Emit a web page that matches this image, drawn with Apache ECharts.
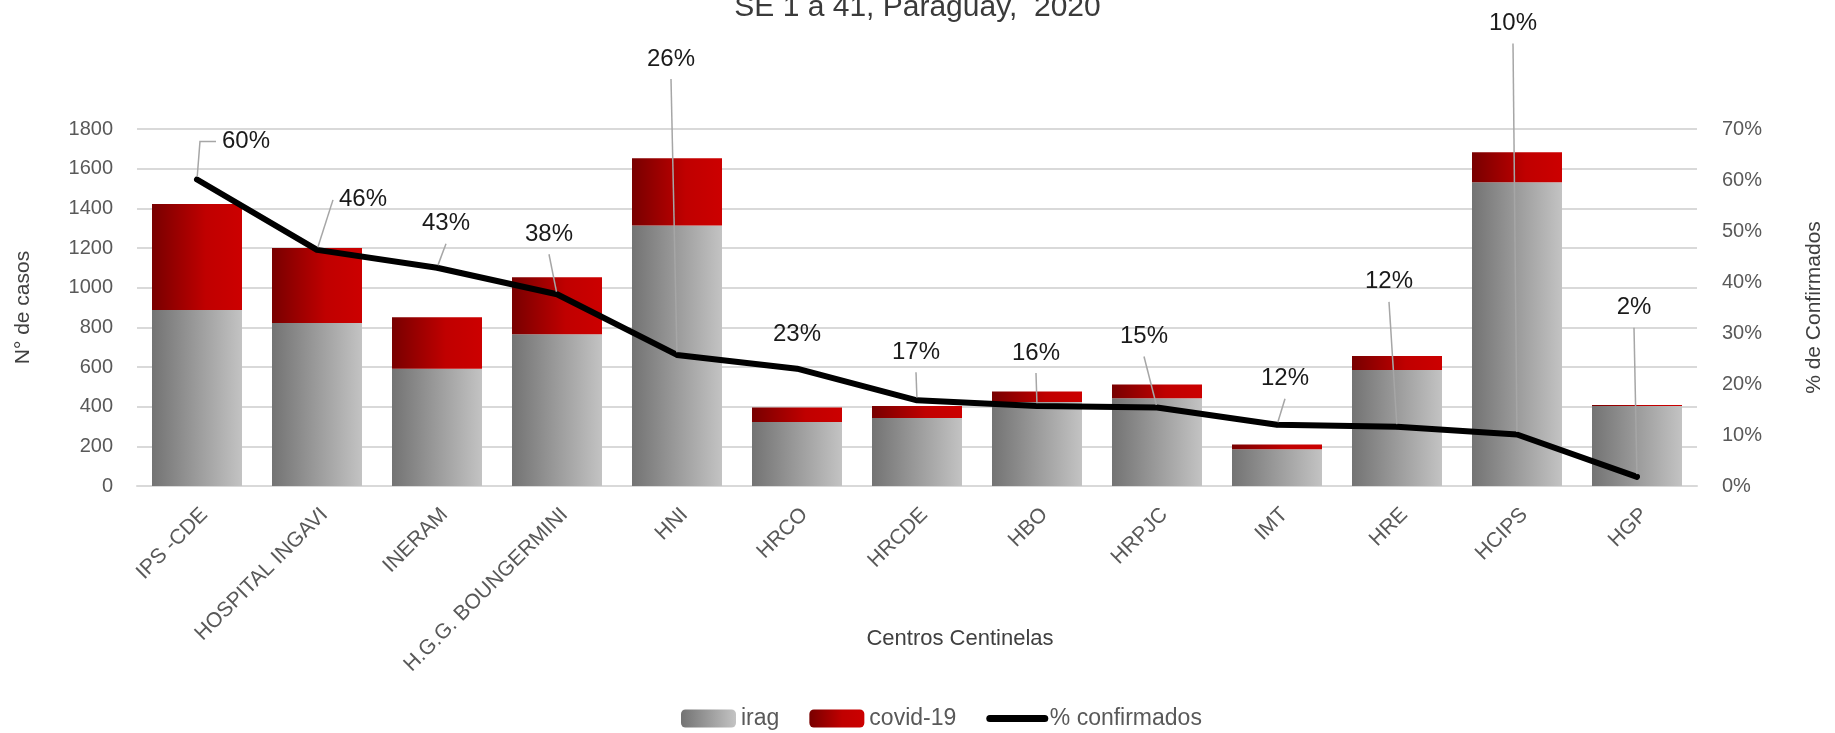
<!DOCTYPE html>
<html>
<head>
<meta charset="utf-8">
<title>Centros Centinelas</title>
<script src="https://cdn.jsdelivr.net/npm/echarts@6/dist/echarts.min.js"></script>
<style>
  html, body { margin: 0; padding: 0; background: #fff; }
  #chart { width: 1835px; height: 733px; }
</style>
</head>
<body>
<div id="chart"></div>
<script>
// categorias (centros centinelas)
var centros = ["IPS -CDE", "HOSPITAL INGAVI", "INERAM", "H.G.G. BOUNGERMINI", "HNI", "HRCO",
  "HRCDE", "HBO", "HRPJC", "IMT", "HRE", "HCIPS", "HGP"];
// casos
var irag = [888, 822, 591, 765, 1314, 323, 343, 423, 442, 185, 585, 1531, 403];
var covid = [534, 378, 260, 288, 339, 73, 60, 54, 70, 24, 71, 152, 6];
// % confirmados
var confirmados = [60.1, 46.3, 42.8, 37.6, 25.7, 23.0, 16.8, 15.7, 15.4, 12.0, 11.6, 10.1, 1.8];
// ticks
var casosTicks = [0, 1800, 200];
var pctTicks = [0, 70, 10];

// desplazamiento de las etiquetas respecto al punto (px)
var etiqDx = [49, 46, 9, -8, -6, 0, -1, -1, -13, 8, -8, -4, -3];
var etiqDy = [-38, -50, -44, -60, -296, -34, -48, -53, -71, -46, -145, -411, -169];

var font = "Liberation Sans, Arial, sans-serif";

var chart = echarts.init(document.getElementById("chart"));

var gris = new echarts.graphic.LinearGradient(0, 0, 1, 0, [
  { offset: 0, color: "#737373" },
  { offset: 1, color: "#c3c3c3" },
]);
var rojo = new echarts.graphic.LinearGradient(0, 0, 1, 0, [
  { offset: 0, color: "#780000" },
  { offset: 0.6, color: "#c00000" },
  { offset: 1, color: "#cc0000" },
]);

var option = {
  animation: false,
  title: {
    text: "SE 1 a 41, Paraguay,  2020",
    left: "center",
    top: -12,
    textStyle: { fontFamily: font, fontSize: 30, fontWeight: "normal", color: "#3a3a3a" },
  },
  legend: {
    left: 676,
    top: 702,
    itemWidth: 55,
    itemHeight: 18,
    itemGap: 30,
    textStyle: { fontFamily: font, fontSize: 23, color: "#595959" },
    data: [
      "irag",
      "covid-19",
      {
        name: "% confirmados",
        itemStyle: { opacity: 0 },
        lineStyle: { width: 7, color: "#000", cap: "round" },
      },
    ],
  },
  grid: { left: 137, right: 138, top: 129, bottom: 247, containLabel: false },
  xAxis: {
    type: "category",
    data: centros,
    name: "Centros Centinelas",
    nameLocation: "middle",
    nameGap: 142,
    nameMoveOverlap: false,
    nameTextStyle: { fontFamily: font, fontSize: 22, color: "#404040", padding: [0, 0, 0, 86] },
    axisLine: { lineStyle: { color: "#d9d9d9", width: 2 } },
    axisTick: { show: false },
    axisLabel: {
      interval: 0,
      rotate: 45,
      margin: 18,
      verticalAlign: "top",
      fontFamily: font,
      fontSize: 21,
      color: "#595959",
    },
  },
  yAxis: [
    {
      type: "value",
      min: casosTicks[0],
      max: casosTicks[1],
      interval: casosTicks[2],
      name: "N° de casos",
      nameLocation: "middle",
      nameGap: 103,
      nameMoveOverlap: false,
      nameTextStyle: { fontFamily: font, fontSize: 21, color: "#404040" },
      axisLine: { show: false },
      axisTick: { show: false },
      axisLabel: {
        margin: 24,
        fontFamily: font,
        fontSize: 20,
        color: "#595959",
        formatter: function (v) {
          return String(v); // sin separador de miles
        },
      },
      splitLine: { lineStyle: { color: "#d9d9d9", width: 2 } },
    },
    {
      type: "value",
      min: pctTicks[0],
      max: pctTicks[1],
      interval: pctTicks[2],
      name: "% de Confirmados",
      nameLocation: "middle",
      nameGap: 107,
      nameMoveOverlap: false,
      nameTextStyle: { fontFamily: font, fontSize: 21, color: "#404040" },
      axisLine: { show: false },
      axisTick: { show: false },
      axisLabel: { margin: 25, fontFamily: font, fontSize: 20, color: "#595959", formatter: "{value}%" },
      splitLine: { show: false },
    },
  ],
  series: [
    {
      name: "irag",
      type: "bar",
      stack: "total",
      barCategoryGap: "25%",
      itemStyle: { color: gris },
      data: irag,
    },
    {
      name: "covid-19",
      type: "bar",
      stack: "total",
      barCategoryGap: "25%",
      itemStyle: { color: rojo },
      data: covid,
    },
    {
      name: "% confirmados",
      type: "line",
      yAxisIndex: 1,
      z: 5,
      symbol: "circle",
      symbolSize: 5,
      itemStyle: { color: "#000" },
      lineStyle: { color: "#000", width: 6, cap: "round", join: "round" },
      data: confirmados.map(function (v, i) {
        var item = { value: v };
        if (i === 0) item.labelLine = { length2: 16 };
        if (i === 5) item.labelLine = { show: false };
        return item;
      }),
      label: {
        show: true,
        position: "inside",
        fontFamily: font,
        fontSize: 24,
        color: "#1a1a1a",
        padding: [6, 6, 10, 6],
        backgroundColor: "transparent",
        formatter: function (p) {
          return Math.round(p.value) + "%";
        },
      },
      labelLine: {
        show: true,
        length2: 0,
        lineStyle: { color: "#a6a6a6", width: 1.5 },
      },
      labelLayout: function (p) {
        var i = p.dataIndex;
        return {
          x: p.rect.x + p.rect.width / 2 + etiqDx[i],
          y: p.rect.y + p.rect.height / 2 + etiqDy[i],
          align: "center",
          verticalAlign: "middle",
        };
      },
    },
  ],
};

chart.setOption(option);
</script>
</body>
</html>
